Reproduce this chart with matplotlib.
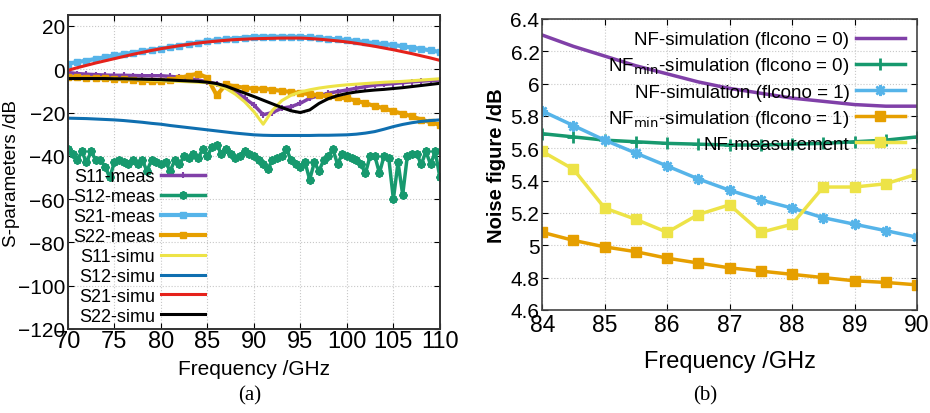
import numpy as np
import matplotlib
matplotlib.use("Agg")
from matplotlib import pyplot as plt

# ---------- (a) S-parameters ----------
freq = np.arange(70, 111, 1.0)
s21_meas = [2.6, 3.3, 4.0, 4.8, 5.6, 6.4, 7.0, 7.7, 8.3, 8.9, 9.5, 10.2, 10.9, 11.6, 12.3, 13.0, 13.4, 13.8, 14.2, 14.6, 15.0,
            15.0, 15.1, 15.0, 15.0, 15.0, 14.7, 14.4, 14.1, 13.8, 13.5, 13.0, 12.5, 12.1, 11.6, 11.2, 10.6, 10.0, 9.4, 8.7, 8.0]
s11_meas = [-1.5, -2.0, -2.3, -2.5, -2.7, -2.8, -2.8, -2.9, -3.0, -3.0, -3.0, -3.3, -3.7, -4.3, -5.0, -5.8, -6.8, -8.2, -10.0, -13.4, -16.5,
            -21.0, -20.0, -18.0, -17.3, -15.7, -13.4, -12.2, -11.1, -10.3, -9.6, -8.8, -8.0, -7.3, -7.0, -6.6, -6.2, -5.8, -5.5, -5.2, -5.0]
s22_meas = [-3.5, -3.8, -4.0, -4.0, -4.2, -4.5, -4.6, -4.8, -5.2, -5.6, -5.5, -5.0, -4.0, -3.0, -2.0, -4.0, -12.0, -7.0, -8.0, -8.5, -9.0,
            -9.0, -9.5, -10.0, -10.5, -11.0, -11.5, -12.0, -12.5, -13.0, -13.5, -14.5, -15.7, -17.0, -18.0, -19.5, -20.5, -21.8, -23.3, -24.5, -25.7]
s11_simu = [-4.3, -4.3, -4.3, -4.3, -4.4, -4.4, -4.5, -4.6, -4.8, -5.0, -5.2, -5.4, -5.6, -5.8, -6.0, -6.2, -7.2, -8.9, -11.5, -15.0, -19.6,
            -25.4, -19.0, -14.5, -12.0, -10.5, -9.5, -8.7, -8.1, -7.6, -7.2, -6.9, -6.6, -6.3, -6.0, -5.8, -5.6, -5.3, -5.0, -4.7, -4.4]
s12_simu = [-22.6, -22.7, -22.8, -23.0, -23.2, -23.4, -23.7, -24.1, -24.5, -25.0, -25.4, -26.0, -26.5, -27.0, -27.5, -28.0, -28.5, -29.0, -29.5, -29.9, -30.3,
            -30.5, -30.6, -30.6, -30.6, -30.6, -30.6, -30.5, -30.5, -30.4, -30.3, -30.0, -29.5, -28.8, -27.7, -26.5, -25.5, -24.7, -24.1, -23.7, -23.4]
s21_simu = [-0.5, 0.7, 1.8, 2.9, 3.9, 4.9, 5.9, 6.9, 7.8, 8.7, 9.5, 10.2, 10.9, 11.5, 12.1, 12.6, 13.0, 13.4, 13.7, 13.9, 14.1,
            14.2, 14.3, 14.4, 14.4, 14.4, 14.2, 13.9, 13.5, 13.1, 12.6, 12.0, 11.3, 10.6, 9.8, 9.0, 8.1, 7.2, 6.2, 5.2, 4.1]
s22_simu = [-4.3, -4.3, -4.3, -4.3, -4.3, -4.4, -4.4, -4.5, -4.6, -4.7, -4.8, -5.0, -5.2, -5.4, -5.6, -6.0, -6.6, -7.8, -9.4, -11.0, -12.6,
            -14.3, -16.0, -17.7, -19.2, -20.0, -18.8, -15.8, -13.6, -12.2, -11.2, -10.5, -10.0, -9.6, -9.3, -8.9, -8.5, -8.0, -7.5, -7.0, -6.5]

freq_s12 = np.arange(70, 110.5, 0.5)
s12_meas = [-37, -39, -42, -38, -43, -38, -42, -42, -45, -50, -43, -42, -43, -44, -42, -44, -42, -47, -42, -43,
            -44, -43, -47, -42, -44, -40, -41, -39, -41, -37, -40, -36, -35, -39, -37, -39, -41, -40, -38, -39,
            -40, -42, -44, -46, -42, -41, -40, -37, -42, -44, -45, -43, -51, -43, -47, -42, -40, -37, -44, -39,
            -40, -41, -42, -44, -48, -40, -40, -48, -40, -41, -60, -43, -58, -40, -39, -39, -44, -38, -44, -38, -50]

# ---------- (b) noise figure ----------
nf_freq = np.arange(84, 90.5, 0.5)
nf_sim0 = [6.30, 6.23, 6.17, 6.11, 6.06, 6.01, 5.97, 5.94, 5.91, 5.89, 5.87, 5.86, 5.86]
nfmin_sim0 = [5.69, 5.67, 5.65, 5.64, 5.63, 5.625, 5.62, 5.62, 5.625, 5.63, 5.64, 5.65, 5.67]
nf_sim1 = [5.83, 5.74, 5.65, 5.57, 5.49, 5.41, 5.34, 5.28, 5.23, 5.17, 5.13, 5.09, 5.05]
nfmin_sim1 = [5.08, 5.03, 4.99, 4.96, 4.92, 4.89, 4.86, 4.84, 4.82, 4.80, 4.78, 4.77, 4.755]
nf_meas = [5.58, 5.47, 5.23, 5.16, 5.08, 5.19, 5.25, 5.08, 5.13, 5.36, 5.36, 5.38, 5.44]

PURPLE = "#8040a8"
GREEN = "#17996e"
LBLUE = "#56b4e9"
ORANGE = "#e69f00"
YELLOW = "#ede347"
BLUE = "#0f6fb0"
RED = "#e5221b"

SANS = ["Liberation Sans", "DejaVu Sans"]
plt.rcParams["font.family"] = SANS

fig = plt.figure(figsize=(9.3, 4.14), dpi=100)

# left panel
ax1 = fig.add_axes([0.073, 0.203, 0.400, 0.758])
ax1.plot(freq, s11_meas, color=PURPLE, lw=2.5, marker="+", ms=5, mew=1.5, label="S11-meas")
ax1.plot(freq_s12, s12_meas, color=GREEN, lw=2.5, marker=(8, 2, 0), ms=6, mew=1.5, label="S12-meas")
ax1.plot(freq, s21_meas, color=LBLUE, lw=3, marker="s", ms=4.5, label="S21-meas")
ax1.plot(freq, s22_meas, color=ORANGE, lw=3, marker="s", ms=4.5, label="S22-meas")
ax1.plot(freq, s11_simu, color=YELLOW, lw=2.2, label="S11-simu")
ax1.plot(freq, s12_simu, color=BLUE, lw=2.2, label="S12-simu")
ax1.plot(freq, s21_simu, color=RED, lw=2.2, label="S21-simu")
ax1.plot(freq, s22_simu, color="black", lw=2.2, label="S22-simu")
ax1.set_xlim(70, 110)
ax1.set_ylim(-120, 25)
ax1.set_xticks(np.arange(70, 111, 5))
ax1.set_yticks(np.arange(-120, 21, 20))
ax1.grid(True, color="#c8c8c8", ls=":", lw=0.8)
ax1.tick_params(direction="in", right=True, top=True, length=4)
ax1.tick_params(axis="y", labelsize=15, pad=2)
ax1.tick_params(axis="x", labelsize=17, pad=1)
ax1.set_xlabel("Frequency /GHz", fontsize=15, labelpad=5)
ax1.set_ylabel("S-parameters /dB", fontsize=13.5)
ax1.yaxis.set_label_coords(-0.13, 0.5)
for sp in ax1.spines.values():
    sp.set_linewidth(1.4)
    sp.set_color("#333333")
leg1 = ax1.legend(loc="lower left", frameon=False, markerfirst=False, fontsize=13,
                  handlelength=2.4, numpoints=1, labelspacing=0.16, borderaxespad=0.1,
                  handletextpad=0.35, bbox_to_anchor=(-0.01, -0.015))
for t in leg1.get_texts():
    t.set_ha("right")

# right panel
ax2 = fig.add_axes([0.583, 0.249, 0.403, 0.703])
ax2.plot(nf_freq, nf_sim0, color=PURPLE, lw=2.5, label="NF-simulation (flcono = 0)")
ax2.plot(nf_freq, nfmin_sim0, color=GREEN, lw=2.5, marker="+", ms=8, mew=2, label="NF$_{\\mathrm{min}}$-simulation (flcono = 0)")
ax2.plot(nf_freq, nf_sim1, color=LBLUE, lw=2.5, marker=(8, 2, 0), ms=8, mew=1.8, label="NF-simulation (flcono = 1)")
ax2.plot(nf_freq, nfmin_sim1, color=ORANGE, lw=2.5, marker="s", ms=6.5, label="NF$_{\\mathrm{min}}$-simulation (flcono = 1)")
ax2.plot(nf_freq, nf_meas, color=YELLOW, lw=2.5, marker="s", ms=6.5, label="NF-measurement")
ax2.set_xlim(84, 90)
ax2.set_ylim(4.6, 6.4)
ax2.set_xticks(np.arange(84, 91, 1))
ax2.set_yticks([4.6, 4.8, 5.0, 5.2, 5.4, 5.6, 5.8, 6.0, 6.2, 6.4])
ax2.set_yticklabels(["4.6", "4.8", "5", "5.2", "5.4", "5.6", "5.8", "6", "6.2", "6.4"])
ax2.grid(True, color="#c8c8c8", ls=":", lw=0.8)
ax2.tick_params(direction="in", right=True, top=True, length=4)
ax2.tick_params(axis="y", labelsize=15, pad=2)
ax2.tick_params(axis="x", labelsize=16.5, pad=2)
ax2.set_xlabel("Frequency /GHz", fontsize=17, labelpad=10)
ax2.set_ylabel("Noise figure /dB", fontsize=14.5, fontweight="bold", labelpad=3)
for sp in ax2.spines.values():
    sp.set_linewidth(1.2)
    sp.set_color("#444444")
leg = ax2.legend(loc="upper right", frameon=False, markerfirst=False, numpoints=1,
                 fontsize=13.5, handlelength=2.6, labelspacing=0.38, borderaxespad=0.25,
                 handletextpad=0.35)
for t in leg.get_texts():
    t.set_ha("right")

fig.text(0.269, 0.045, "(a)", fontsize=15, family="Liberation Serif", ha="center", va="center")
fig.text(0.758, 0.045, "(b)", fontsize=15, family="Liberation Serif", ha="center", va="center")

fig.savefig("out.png", dpi=100)
